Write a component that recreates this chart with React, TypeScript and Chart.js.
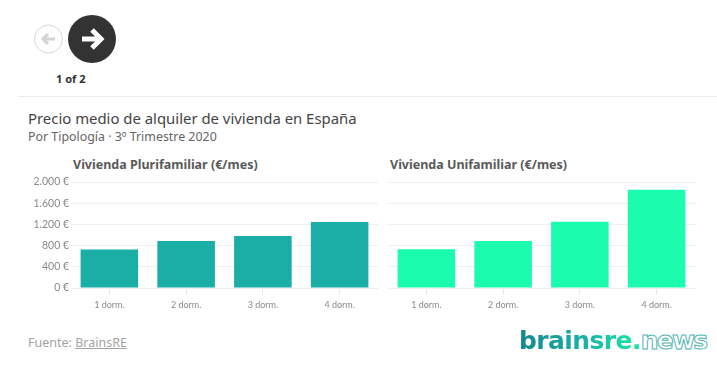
import React, { useEffect, useRef } from "react";
import { Chart, registerables } from "chart.js";

Chart.register(...registerables);

const categories = ["1 dorm.", "2 dorm.", "3 dorm.", "4 dorm."];
const plurifamiliar = [726, 887, 981, 1245];
const unifamiliar = [730, 887, 1250, 1855];
const TEAL = "#1aaea6";
const MINT = "#1bfcae";

const fmt = (v: number) =>
  (v >= 1000 ? `${Math.floor(v / 1000)}.${String(v % 1000).padStart(3, "0")}` : `${v}`) + " €";

function Panel({ values, color, showY, style }: { values: number[]; color: string; showY: boolean; style: React.CSSProperties }) {
  const ref = useRef<HTMLCanvasElement>(null);
  useEffect(() => {
    const chart = new Chart(ref.current!, {
      type: "bar",
      data: {
        labels: categories,
        datasets: [{ data: values, backgroundColor: color, borderWidth: 0, categoryPercentage: 0.75, barPercentage: 1 }],
      },
      options: {
        animation: false,
        responsive: false,
        layout: { padding: { top: 10, left: 0, right: 0, bottom: 0 } },
        plugins: { legend: { display: false }, tooltip: { enabled: false } },
        scales: {
          x: {
            grid: { display: true, drawOnChartArea: false, offset: false, color: "#e6e6e6", tickLength: 6 },
            border: { color: "#eeeeee" },
            ticks: { color: "#8a8a8a", font: { family: "Lato", size: 9 }, padding: 6, maxRotation: 0 },
            afterFit: (s: any) => { s.height = 24; },
          },
          y: {
            min: 0,
            max: 2000,
            grid: { color: "#efefef", drawTicks: false },
            border: { display: false },
            ticks: {
              display: showY,
              stepSize: 400,
              color: "#8a8a8a",
              padding: 2,
              font: { family: "Lato", size: 10.5 },
              callback: (v: any) => fmt(Number(v)),
            },
            afterFit: (s: any) => { s.width = showY ? 51 : 0; },
          },
        },
      },
    });
    return () => chart.destroy();
  }, []);
  return <canvas ref={ref} width={style.width as number} height={style.height as number} style={{ position: "absolute", ...style }} />;
}

const abs = (left: number, top: number, extra: React.CSSProperties): React.CSSProperties => ({
  position: "absolute", left, top, whiteSpace: "nowrap", ...extra,
});

export default function App() {
  return (
    <div style={{ position: "absolute", left: 0, top: 0, width: 717, height: 365, background: "#fff", overflow: "hidden", fontFamily: "'Noto Sans', sans-serif" }}>
      <svg width={120} height={70} style={{ position: "absolute", left: 0, top: 0 }}>
        <circle cx={48.5} cy={39} r={14} fill="#fff" stroke="#d8d8d8" />
        <path d="M55 39H44M48 34l-5 5 5 5" fill="none" stroke="#d4d4d4" strokeWidth={3} />
        <circle cx={92} cy={39} r={24} fill="#333333" />
        <path d="M82 39H100M92 30l9 9-9 9" fill="none" stroke="#fff" strokeWidth={5} />
      </svg>
      <div style={abs(56, 71, { fontSize: 11, fontWeight: 700, color: "#333" })}>1 of 2</div>
      <div style={{ position: "absolute", left: 18, top: 96, width: 699, height: 1, background: "#ececec" }} />
      <div style={abs(28, 108, { fontSize: 14.9, color: "#444" })}>Precio medio de alquiler de vivienda en España</div>
      <div style={abs(28, 128, { fontSize: 12.4, color: "#666" })}>Por Tipología · 3º Trimestre 2020</div>
      <div style={abs(73, 156, { fontSize: 12.5, fontWeight: 700, color: "#595959" })}>Vivienda Plurifamiliar (€/mes)</div>
      <div style={abs(390, 156, { fontSize: 12.5, fontWeight: 700, color: "#595959" })}>Vivienda Unifamiliar (€/mes)</div>
      <Panel values={plurifamiliar} color={TEAL} showY style={{ left: 20, top: 172, width: 358, height: 140 }} />
      <Panel values={unifamiliar} color={MINT} showY={false} style={{ left: 388, top: 172, width: 307, height: 140 }} />
      <div style={abs(28, 334, { fontSize: 12.5, color: "#a3a3a3" })}>
        Fuente: <span style={{ textDecoration: "underline" }}>BrainsRE</span>
      </div>
      <div style={abs(519, 326, { fontSize: 25, fontFamily: "'DejaVu Sans', sans-serif", fontWeight: 700, letterSpacing: -0.6 })}>
        <span style={{ background: `linear-gradient(90deg, #12888c, ${TEAL} 55%, #1be0a8)`, WebkitBackgroundClip: "text", backgroundClip: "text", color: "transparent" }}>brainsre</span>
        <span style={{ color: "#1be0a8" }}>.</span>
        <span style={{ color: "#fff", WebkitTextStroke: "1px #4fb4b4", letterSpacing: -1.8 }}>news</span>
      </div>
    </div>
  );
}
